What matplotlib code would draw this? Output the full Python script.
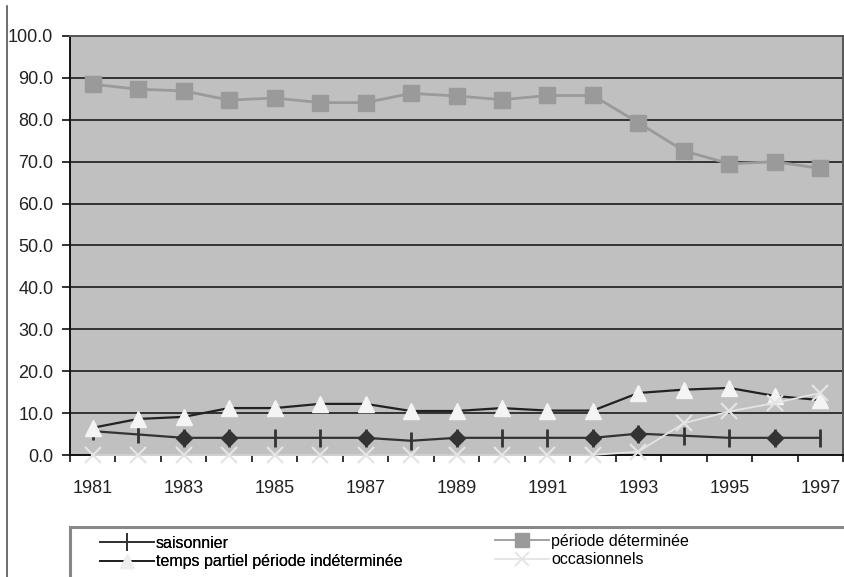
import matplotlib
matplotlib.use("Agg")
import matplotlib.pyplot as plt
from matplotlib import font_manager
from matplotlib.lines import Line2D
from matplotlib.patches import Rectangle

years = list(range(1981, 1998))
saisonnier = [5.7, 4.9, 4.1, 4.1, 4.1, 4.1, 4.1, 3.4, 4.1, 4.1, 4.1, 4.1, 5.1, 4.6, 4.1, 4.1, 4.1]
periode_determinee = [88.5, 87.3, 86.9, 84.7, 85.2, 84.1, 84.1, 86.3, 85.7, 84.8, 85.8, 85.8,
                      79.3, 72.6, 69.5, 70.0, 68.4]
temps_partiel = [6.5, 8.6, 9.1, 11.2, 11.2, 12.2, 12.2, 10.5, 10.5, 11.2, 10.6, 10.6,
                 14.8, 15.6, 16.0, 14.1, 13.1]
occasionnels = [0.0, 0.0, 0.0, 0.0, 0.0, 0.0, 0.0, 0.0, 0.0, 0.0, 0.0, 0.0,
                0.8, 7.6, 10.4, 12.4, 14.8]
labels = ["saisonnier", "période déterminée",
          "temps partiel période indéterminée", "occasionnels"]

# points of the saisonnier series that show a diamond instead of a bar
diamond_idx = [2, 3, 6, 8, 11, 12, 15]

# the original uses a narrow sans; use one if available
fonts = {f.name for f in font_manager.fontManager.ttflist}
if 'Liberation Sans Narrow' in fonts:
    plt.rcParams['font.family'] = ['Liberation Sans Narrow', 'DejaVu Sans']
    tick_fs, leg_fs = 15, 13
else:
    plt.rcParams['font.family'] = ['Liberation Sans', 'DejaVu Sans']
    tick_fs, leg_fs = 13, 11.5

fig = plt.figure(figsize=(8.45, 5.77), dpi=100)
ax = fig.add_axes([70 / 845, 1 - 455 / 577, 773 / 845, 419 / 577])
ax.set_facecolor('#c0c0c0')

c_sais = '#333333'
c_per = '#9a9a9a'
c_tp = '#222222'
c_occ = '#e4e4e4'

ax.plot(years, periode_determinee, color=c_per, lw=2, marker='s', ms=11,
        mec=c_per, mfc=c_per, zorder=4)
ax.plot(years, temps_partiel, color=c_tp, lw=1.6, zorder=4)
ax.plot(years, temps_partiel, ls='none', marker='^', ms=12, mfc='#f4f4f4',
        mec='#f4f4f4', zorder=5)
ax.plot(years, saisonnier, color=c_sais, lw=1.6, marker='|', ms=13, mew=2,
        mec=c_sais, zorder=4)
ax.plot(years, saisonnier, ls='none', marker='D', ms=8, color=c_sais,
        markevery=diamond_idx, zorder=5)
ax.plot(years, occasionnels, color=c_occ, lw=1.3, marker='x', ms=11, mew=1.6,
        zorder=6, clip_on=False)

ax.set_xlim(1980.5, 1997.5)
ax.set_ylim(0, 100)
ax.set_yticks(range(0, 101, 10))
ax.set_yticklabels([f"{v:.1f}" for v in range(0, 101, 10)])
ax.set_xticks([y + 0.5 for y in range(1980, 1998)])
ax.set_xticklabels([])
ax.set_xticks(years[::2], minor=True)
ax.set_xticklabels([str(y) for y in years[::2]], minor=True)
ax.tick_params(axis='x', which='major', direction='out', length=5, width=1.2, color='#111111')
ax.tick_params(axis='x', which='minor', length=0, pad=18, labelsize=tick_fs, labelcolor='#222222')
ax.tick_params(axis='y', direction='out', length=6, width=1.2, color='#111111',
               labelsize=tick_fs, labelcolor='#222222', pad=6)

ax.grid(axis='y', color='#333333', lw=1.4)
ax.set_axisbelow(True)
for side in ['top', 'right']:
    ax.spines[side].set_color('#555555')
    ax.spines[side].set_linewidth(1.4)
ax.spines['left'].set_color('#111111')
ax.spines['left'].set_linewidth(1.4)
ax.spines['bottom'].set_color('#111111')
ax.spines['bottom'].set_linewidth(1.4)

# outer frame line at the left and legend box
fig.add_artist(Line2D([7 / 845, 7 / 845], [0, 1 - 6 / 577], color='#555555', lw=1.2))
fig.add_artist(Rectangle((70 / 845, -0.1), 1.0, 0.1 + 1 - 527 / 577, fill=False,
                         ec='#888888', lw=2.2, clip_on=False))

h_sais = Line2D([], [], color=c_sais, lw=1.3, marker='|', ms=13, mew=1.3)
h_tp = Line2D([], [], color=c_tp, lw=1.3, marker='^', ms=10, mfc='#eeeeee', mec='#eeeeee')
h_per = Line2D([], [], color=c_per, lw=1.3, marker='s', ms=10)
h_occ = Line2D([], [], color=c_occ, lw=1.3, marker='x', ms=10, mew=1.3)

leg_kw = dict(loc='upper left', frameon=False, fontsize=leg_fs, handlelength=3.4,
              handletextpad=0.1, labelspacing=0.2, borderpad=0, borderaxespad=0)
leg1 = fig.legend([h_sais, h_tp], [labels[0], labels[2]],
                  bbox_to_anchor=(100 / 845, 1 - 536 / 577), **leg_kw)
fig.add_artist(leg1)
fig.legend([h_per, h_occ], [labels[1], labels[3]],
           bbox_to_anchor=(495 / 845, 1 - 534 / 577), **leg_kw)

fig.savefig("out.png", dpi=100)
